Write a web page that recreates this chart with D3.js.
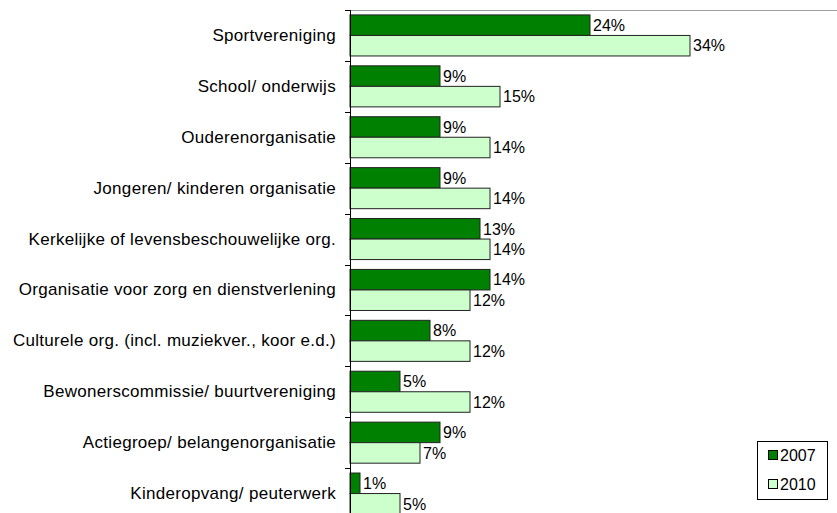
<!DOCTYPE html>
<html>
<head>
<meta charset="utf-8">
<script src="https://cdn.jsdelivr.net/npm/d3@7"></script>
<style>
  body { margin: 0; background: #fff; }
  svg { display: block; font-family: Arial, "Liberation Sans", sans-serif; }
</style>
</head>
<body>
<svg id="chart" width="837" height="513"></svg>
<script>
const categories = [
  "Sportvereniging",
  "School/ onderwijs",
  "Ouderenorganisatie",
  "Jongeren/ kinderen organisatie",
  "Kerkelijke of levensbeschouwelijke org.",
  "Organisatie voor zorg en dienstverlening",
  "Culturele org. (incl. muziekver., koor e.d.)",
  "Bewonerscommissie/ buurtvereniging",
  "Actiegroep/ belangenorganisatie",
  "Kinderopvang/ peuterwerk"
];
const series = ["2007", "2010"];
const values2007 = [24, 9, 9, 9, 13, 14, 8, 5, 9, 1];
const values2010 = [34, 15, 14, 14, 14, 12, 12, 12, 7, 5];
const colors = ["#008000", "#ccffcc"];

const w = 837, h = 513;
const padL = 350, padT = 10;
const fontSize = "16px";

const svg = d3.select("#chart");

const y = d3.scaleBand()
  .domain(categories)
  .range([padT, padT + 509])
  .paddingInner(0)
  .paddingOuter(0);

const ySub = d3.scaleBand()
  .domain(series)
  .range([0, y.bandwidth()])
  .paddingOuter(0.24);

const x = d3.scaleLinear()
  .domain([0, 48.7])
  .range([padL, w]);

// top border of plot area
svg.append("line")
  .attr("x1", padL).attr("x2", w)
  .attr("y1", padT + 0.5).attr("y2", padT + 0.5)
  .attr("stroke", "#a0a0a0")
  .attr("stroke-width", 1);

const data = categories.map((c, i) => ({ cat: c, vals: [values2007[i], values2010[i]] }));

const groups = svg.selectAll(".grp")
  .data(data)
  .enter()
  .append("g")
  .attr("class", "grp")
  .attr("transform", d => "translate(0," + y(d.cat) + ")");

groups.selectAll("rect")
  .data(d => d.vals.map((v, i) => ({ key: series[i], v: v })))
  .enter()
  .append("rect")
  .attr("x", x(0))
  .attr("y", d => ySub(d.key))
  .attr("width", d => x(d.v) - x(0))
  .attr("height", ySub.bandwidth())
  .attr("fill", (d, i) => colors[i])
  .attr("stroke", "#222")
  .attr("stroke-width", 1);

groups.selectAll(".val")
  .data(d => d.vals.map((v, i) => ({ key: series[i], v: v })))
  .enter()
  .append("text")
  .attr("class", "val")
  .attr("x", d => x(d.v) + 3)
  .attr("y", d => ySub(d.key) + ySub.bandwidth() / 2)
  .attr("dy", "0.36em")
  .style("font-size", fontSize)
  .attr("fill", "#000")
  .text(d => d.v + "%");

// category axis
const yAxis = d3.axisLeft(y)
  .tickSize(0)
  .tickPadding(14);

const ag = svg.append("g")
  .attr("transform", "translate(" + padL + ",0)")
  .call(yAxis);
ag.select(".domain").remove();
ag.selectAll("text")
  .style("font-size", "17px")
  .style("letter-spacing", "0.3px")
  .style("font-family", "Arial, 'Liberation Sans', sans-serif")
  .attr("fill", "#000");

svg.append("line")
  .attr("x1", padL + 0.5).attr("x2", padL + 0.5)
  .attr("y1", padT).attr("y2", h)
  .attr("stroke", "#000");

svg.selectAll(".tick-mark")
  .data(categories)
  .enter()
  .append("line")
  .attr("class", "tick-mark")
  .attr("x1", padL - 5).attr("x2", padL)
  .attr("y1", d => Math.round(y(d)) + 0.5)
  .attr("y2", d => Math.round(y(d)) + 0.5)
  .attr("stroke", "#000");

// legend
const lg = svg.append("g").attr("transform", "translate(757,441)");
lg.append("rect")
  .attr("x", 0.5).attr("y", 0.5)
  .attr("width", 70).attr("height", 58)
  .attr("fill", "#fff")
  .attr("stroke", "#000");
series.forEach((s, i) => {
  lg.append("rect")
    .attr("x", 11.5).attr("y", 9.5 + i * 29)
    .attr("width", 9).attr("height", 9)
    .attr("fill", colors[i])
    .attr("stroke", "#000");
  lg.append("text")
    .attr("x", 23).attr("y", 14 + i * 29)
    .attr("dy", "0.36em")
    .style("font-size", fontSize)
    .text(s);
});
</script>
</body>
</html>
